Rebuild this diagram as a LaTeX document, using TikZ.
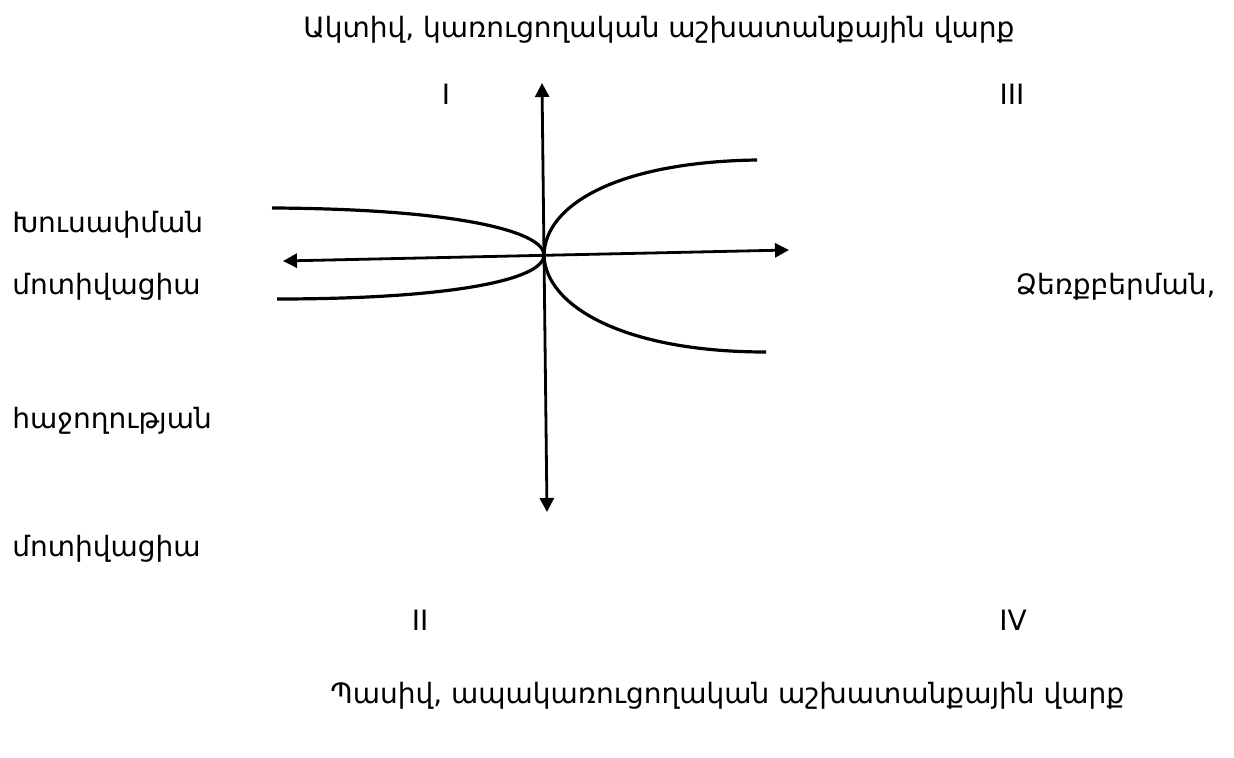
\documentclass[tikz,border=0pt]{standalone}
\usepackage{fontspec}
\setmainfont{DejaVu Sans}
\usepackage{tikz}
\usetikzlibrary{arrows.meta, positioning}
\tikzset{
  lbl/.style={
    inner sep=0pt, anchor=base, font=\fontsize{14}{17}\selectfont
  },
  side/.style={
    lbl, anchor=base west
  },
  axis/.style={{Triangle[length=7pt, width=7pt]}-{Triangle[length=7pt, width=7pt]}, line width=1.4pt},
  curve/.style={line width=1.6pt}
}

\begin{document}
\begin{tikzpicture}[x=0.5pt, y=-0.5pt]
  \useasboundingbox (0,0) rectangle (1234,758);

  % ---- Nodes ----
  \node[side] (active)  at (303,38)  {Ակտիվ, կառուցողական աշխատանքային վարք};
  \node[side] (passive) at (330,703) {Պասիվ, ապակառուցողական աշխատանքային վարք};

  \node[lbl] (q1) at (446,105)  {I};
  \node[lbl] (q3) at (1012,105) {III};
  \node[lbl] (q2) at (420,630)  {II};
  \node[lbl] (q4) at (1013,630) {IV};

  \node[side] (avoid)   at (12,233) {Խուսափման};
  \node[side] (motiv1)  at (12,295) {մոտիվացիա};
  \node[side] (success) at (12,428) {հաջողության};
  \node[side] (motiv2)  at (12,556) {մոտիվացիա};
  \node[lbl, anchor=base east] (gain) at (1216,295) {Ձեռքբերման,};

  % ---- Axes ----
  \coordinate (ytop)   at (542,83);
  \coordinate (ybot)   at (547,512);
  \coordinate (xleft)  at (283,261);
  \coordinate (xright) at (789,250);
  \coordinate (o)      at (544,255);

  \draw[axis] (ybot)  -- (ytop);
  \draw[axis] (xleft) -- (xright);

  % ---- Curves ----
  \coordinate (lu) at (272,208);
  \coordinate (ll) at (277,299);
  \coordinate (ru) at (757,160);
  \coordinate (rl) at (766,352);

  \draw[curve] (lu) .. controls (460,209) and (544,232) .. (o)
                    .. controls (544,280) and (450,299) .. (ll);
  \draw[curve] (ru) .. controls (617,162) and (545,205) .. (o)
                    .. controls (545,305) and (622,352) .. (rl);

\end{tikzpicture}
\end{document}
